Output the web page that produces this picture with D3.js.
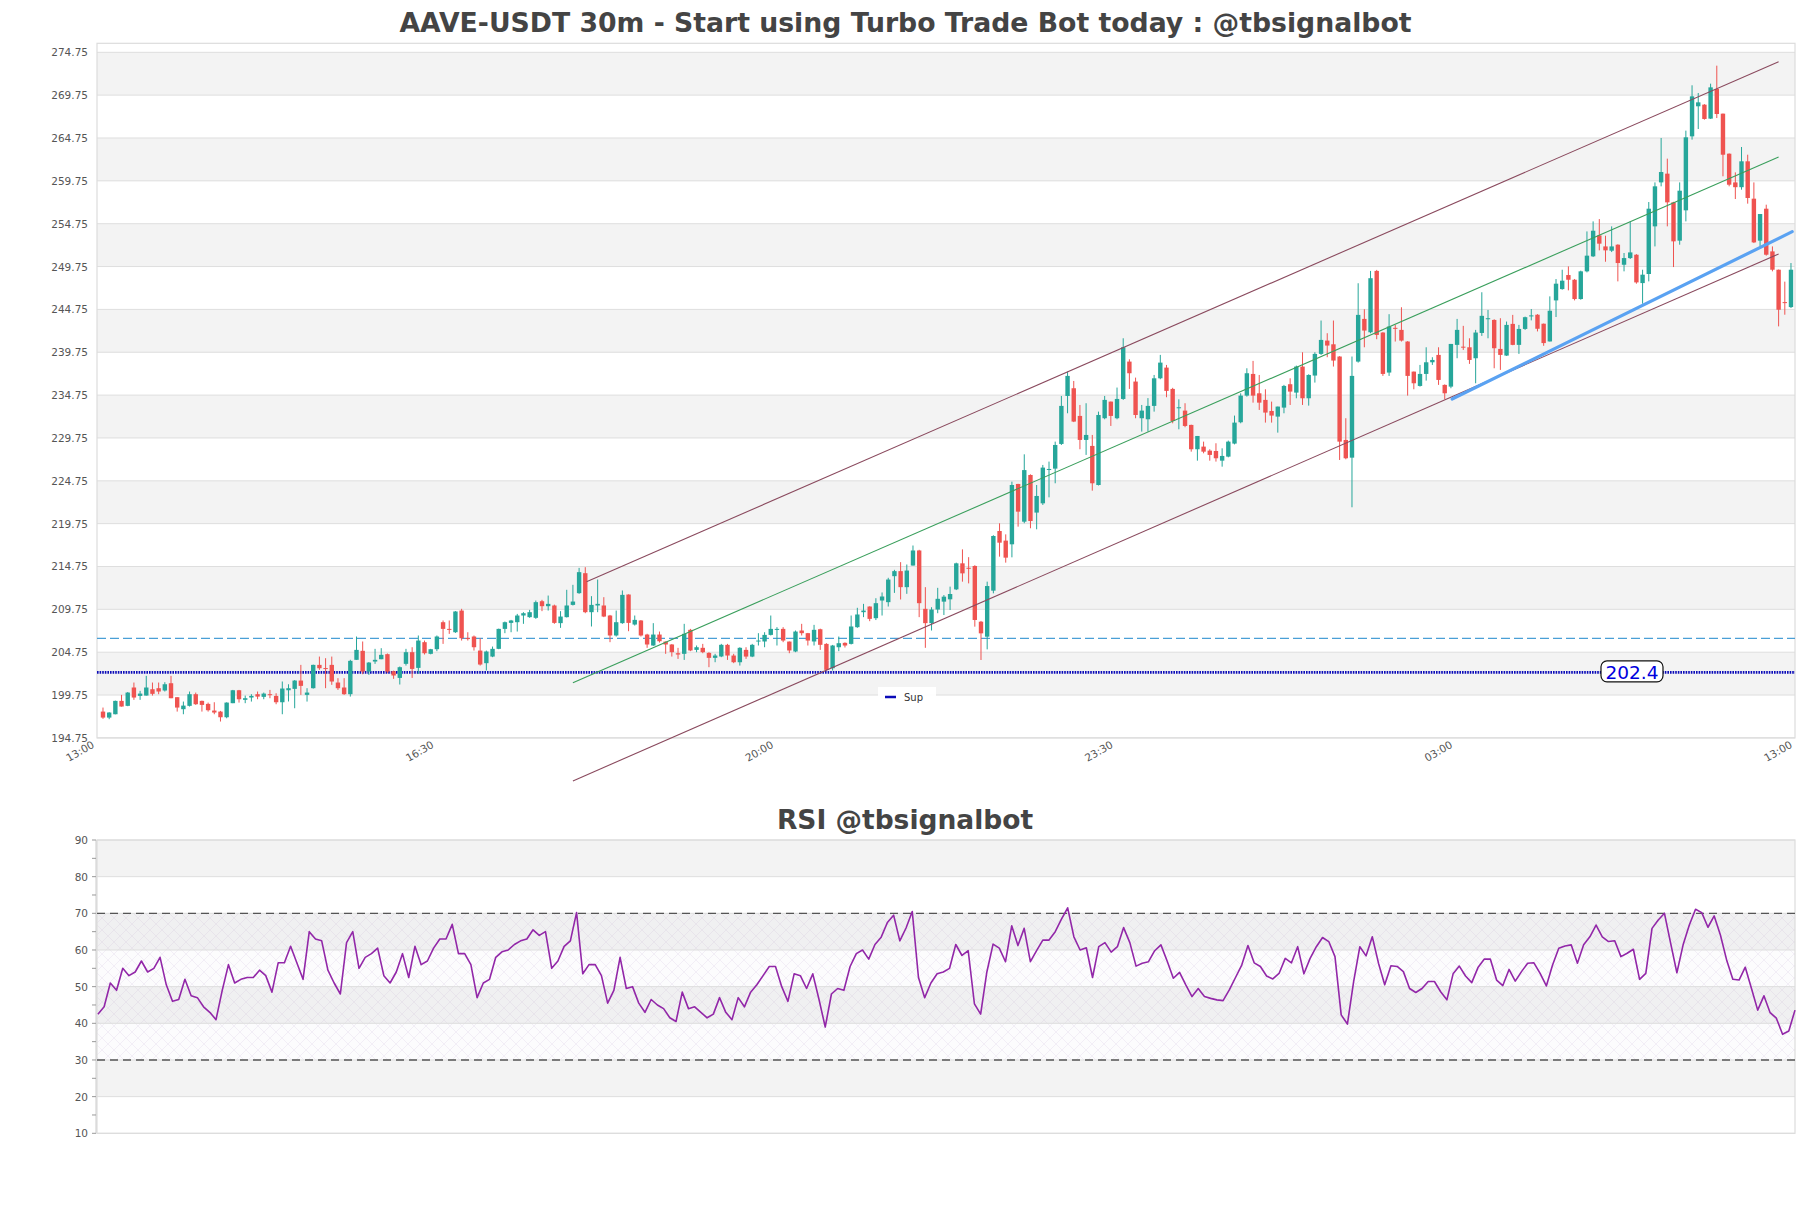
<!DOCTYPE html>
<html><head><meta charset="utf-8">
<script src="https://cdn.jsdelivr.net/npm/d3@7"></script>
<style>body{margin:0;background:#fff;} svg{display:block;font-family:"DejaVu Sans",sans-serif;}</style>
</head><body><svg id="c" width="1811" height="1208"></svg>
<script>
const opens = [197.82,197.12,197.51,199.07,198.49,200.63,199.65,199.69,200.43,200.55,200.28,201.13,199.50,198.10,198.49,199.85,199.07,198.72,197.94,197.82,
197.16,198.80,200.31,199.19,199.46,199.85,199.54,199.85,199.65,198.91,200.31,200.47,201.44,199.77,200.55,203.27,202.90,203.27,201.21,200.63,
199.85,203.86,204.91,202.49,203.66,203.93,204.52,202.53,201.75,203.39,204.75,202.92,205.92,204.56,205.10,208.25,207.47,207.08,209.61,206.40,
206.58,204.94,203.47,204.24,205.14,207.47,208.17,208.25,209.03,208.84,208.76,210.70,210.12,210.20,208.14,208.84,210.27,211.64,213.97,209.42,
210.20,210.20,209.03,206.70,208.14,211.48,207.98,208.45,206.81,205.53,206.81,205.99,205.65,204.63,204.56,207.36,205.02,205.26,204.67,204.09,
204.25,205.61,204.36,203.58,205.02,204.24,206.05,206.00,206.77,207.40,207.47,205.99,204.83,207.28,206.97,206.00,207.43,205.72,202.88,205.33,
205.84,205.72,207.67,209.42,210.08,208.72,210.78,210.59,213.62,214.21,212.34,214.86,216.62,209.81,208.14,209.73,210.65,210.92,212.08,215.12,
214.60,214.81,208.31,206.56,211.93,218.89,217.77,217.34,224.38,219.98,225.43,221.04,222.12,226.10,226.17,229.05,234.65,235.55,232.32,229.52,
228.82,224.26,232.05,233.99,232.05,234.30,238.66,236.33,232.05,231.93,233.49,236.71,237.96,235.47,233.30,232.94,231.27,228.43,228.74,228.27,
228.23,227.10,227.57,229.09,231.58,234.69,237.22,234.96,234.19,232.90,232.24,233.29,236.02,235.04,238.08,234.38,237.03,239.56,241.11,240.68,
239.25,229.52,227.45,238.66,243.64,242.08,249.24,242.05,237.38,242.60,242.36,241.00,237.49,235.82,237.22,238.58,239.44,235.94,235.74,240.61,
240.40,240.33,239.05,242.00,243.70,243.52,240.14,239.36,243.06,240.61,242.47,244.00,244.13,243.08,241.01,245.80,247.12,248.76,248.21,245.96,
249.19,250.94,253.39,252.10,251.60,252.30,249.96,250.74,251.13,247.82,248.88,254.44,259.57,260.59,257.24,252.77,256.31,264.94,268.45,268.64,
267.01,270.47,267.59,262.92,259.57,259.01,262.03,257.67,252.77,256.50,251.52,249.38,245.60,245.02];
const highs = [198.29,197.75,199.10,199.77,200.10,201.21,200.24,201.99,201.21,201.21,201.25,201.99,199.50,198.99,200.16,200.04,199.10,198.87,198.91,197.90,
198.90,200.35,200.35,199.69,199.85,200.16,200.04,200.35,199.96,201.33,201.01,201.50,203.27,200.55,203.30,204.24,204.05,204.24,201.72,201.72,
203.86,206.58,206.00,203.60,205.14,205.22,204.60,202.60,203.08,205.14,205.33,206.70,206.11,205.14,206.70,208.45,208.45,209.55,209.81,207.08,
206.70,206.38,204.94,205.41,207.50,208.33,208.52,209.22,209.42,209.69,210.78,210.86,211.36,210.30,209.54,212.03,212.61,214.59,214.67,211.29,
213.23,211.17,209.10,209.61,211.95,211.50,209.03,208.50,206.90,208.14,207.16,206.00,205.70,205.26,208.06,207.47,205.53,205.72,204.75,204.56,
205.72,205.72,204.56,205.33,205.33,205.72,206.97,207.08,209.03,207.67,207.67,206.00,207.28,208.06,207.00,207.94,207.50,205.80,205.60,206.58,
205.90,209.03,209.93,210.39,210.10,211.05,211.72,213.43,214.36,215.26,214.98,217.20,216.70,212.34,210.00,212.26,211.42,212.40,215.20,216.75,
215.84,214.90,208.40,212.98,218.40,219.79,218.50,224.65,224.40,227.84,225.50,224.26,226.60,226.99,229.32,234.65,237.49,236.40,233.60,233.80,
230.10,232.82,234.65,234.00,235.63,241.38,238.93,236.79,233.60,234.40,237.10,239.44,238.27,235.60,234.26,233.80,231.30,229.98,229.32,228.43,
229.13,228.54,229.44,232.36,234.96,237.88,238.74,237.10,235.43,233.99,233.41,235.94,236.71,238.19,239.75,237.18,239.75,243.45,241.97,243.45,
239.30,232.05,239.25,247.80,244.77,249.24,249.36,242.10,244.19,242.94,245.00,241.05,237.50,238.27,240.33,239.17,240.33,236.00,240.72,243.64,
242.83,241.38,242.36,246.75,244.69,243.60,243.72,243.33,244.11,242.94,243.91,244.79,244.20,243.10,246.27,248.29,249.38,249.77,248.30,249.27,
253.85,255.02,255.29,253.35,254.44,252.35,251.33,255.02,251.20,249.38,257.28,259.57,264.75,262.34,257.30,259.57,265.61,270.90,270.00,268.70,
271.09,273.19,267.60,262.95,260.74,263.70,262.80,259.57,255.88,256.97,252.10,249.40,247.99,250.16];
const lows = [196.97,196.93,197.50,198.40,198.45,199.19,199.19,199.69,199.69,199.85,200.16,199.38,197.82,197.51,198.41,198.60,197.82,197.82,197.51,196.66,
197.04,198.80,198.87,198.80,198.99,199.26,199.26,199.38,198.68,197.51,199.00,198.21,199.77,198.99,200.50,202.69,200.55,200.94,200.35,199.77,
199.57,203.86,202.18,202.10,203.39,203.93,202.30,201.64,200.98,203.19,201.75,202.22,204.48,204.50,204.87,205.72,206.89,207.00,206.11,206.11,
204.94,203.19,202.61,204.17,205.10,206.97,207.08,207.16,208.06,208.76,208.64,209.54,209.61,208.06,207.59,208.80,210.20,211.56,209.30,207.75,
209.42,208.84,205.92,206.58,208.06,207.20,207.86,206.58,205.26,205.49,205.88,204.56,204.24,203.97,203.85,204.87,204.75,204.63,203.00,203.58,
204.17,203.85,203.47,203.19,203.97,204.17,205.53,205.33,206.70,205.53,205.92,204.63,204.75,206.70,205.53,205.53,205.02,202.61,202.61,204.87,
205.30,205.65,207.59,208.84,208.37,208.50,209.03,210.08,211.67,210.90,211.56,214.86,208.84,205.26,207.28,209.30,209.09,209.67,212.00,212.98,
212.78,207.73,203.84,205.08,211.62,215.90,215.20,215.82,219.40,219.80,219.21,219.09,221.93,222.82,224.46,228.93,232.63,231.60,228.43,227.77,
223.60,224.20,231.93,231.15,231.93,234.19,235.47,232.05,230.49,230.49,232.82,236.60,234.50,231.46,230.76,231.00,228.15,227.10,227.96,227.10,
226.99,226.40,227.49,229.00,231.46,234.57,233.87,233.02,231.54,231.54,230.37,232.63,233.60,234.38,233.60,233.52,236.21,239.44,239.17,238.08,
227.18,227.26,221.66,238.54,240.33,241.97,241.27,236.99,236.99,241.00,241.00,234.69,235.43,235.74,236.44,238.27,235.94,234.26,235.55,239.05,
240.02,238.39,236.13,241.66,241.38,237.88,237.69,239.32,240.57,239.56,242.36,243.47,242.18,240.50,241.00,243.86,247.05,246.97,245.80,245.88,
249.07,250.86,251.64,250.31,251.44,248.02,249.19,250.63,247.75,245.41,248.02,252.10,259.11,254.44,249.69,252.30,255.02,264.56,265.80,266.89,
266.97,267.08,260.28,259.11,257.63,258.72,257.09,252.49,252.10,251.02,249.19,242.77,244.13,244.91];
const closes = [197.12,197.71,199.07,198.41,200.04,199.46,199.92,200.63,199.89,200.16,201.01,199.38,198.29,198.52,199.85,198.68,198.60,197.98,197.71,197.16,
198.87,200.31,199.26,199.38,199.65,199.57,199.92,199.77,198.91,200.51,200.55,201.44,200.82,200.04,203.27,202.88,202.85,201.33,200.55,199.85,
203.74,205.02,202.49,203.54,203.86,204.44,202.49,202.03,203.00,204.75,202.80,206.11,204.63,205.10,206.58,207.47,207.45,209.50,206.38,206.38,
205.33,203.31,204.83,205.14,207.47,208.25,208.45,209.03,209.30,209.42,210.59,210.12,210.39,208.17,208.91,210.20,210.66,214.09,209.42,210.27,
210.39,208.91,206.70,208.25,211.44,208.17,208.52,206.70,205.65,206.81,206.03,205.65,204.75,204.48,206.89,204.95,205.33,204.75,204.09,204.36,
205.61,204.36,203.58,205.26,204.24,205.61,206.11,206.77,207.47,207.47,206.11,204.95,207.16,206.97,206.11,207.36,205.61,202.69,205.53,205.80,
205.53,207.75,209.15,209.61,208.64,210.47,211.25,213.23,214.21,212.34,214.28,216.62,210.47,208.14,209.73,210.98,211.23,211.54,215.12,213.95,
214.54,208.51,206.95,212.47,218.31,217.53,215.78,224.26,221.15,226.00,220.06,222.98,226.29,226.13,228.93,233.49,236.99,231.66,229.52,230.10,
224.46,232.43,234.19,232.32,234.30,240.33,237.30,232.43,232.94,233.49,236.71,238.54,235.24,231.73,233.33,231.15,228.43,229.98,228.15,227.77,
227.38,227.65,229.32,231.54,234.69,237.30,234.69,233.87,232.71,232.36,233.41,235.82,235.16,238.08,234.38,237.10,239.56,241.19,240.53,238.78,
229.32,227.38,236.99,244.11,242.28,248.39,241.77,237.22,242.75,242.55,241.11,236.99,236.13,237.22,238.58,238.85,236.52,234.96,240.72,242.36,
240.33,238.85,242.05,244.00,243.72,240.22,239.44,242.94,240.61,242.47,243.84,244.05,242.49,240.82,244.59,247.75,248.10,248.21,245.96,249.19,
251.02,253.93,252.42,251.64,252.10,250.16,250.74,251.40,247.90,248.80,256.50,259.11,260.78,257.24,252.69,258.60,264.83,269.61,268.91,266.97,
270.66,267.55,262.80,259.30,259.01,262.03,257.75,252.57,255.88,251.13,249.38,244.71,245.57,249.38];
const rsiValues = [42.5,44.5,51,49,55,53,54,57,54,55,58,50.5,46,46.5,52,47.5,47,44.5,43,41,
49,56,51,52,52.5,52.5,54.5,53,48.5,56.5,56.5,61,56.5,52,65,63,62.5,54.5,51,48,
62,65,55,58,59,60.5,53,51,54,59,52.5,61,56,57,60.5,63,63,67,59,59,
56,47,51,52,58,59.5,60,61.5,62.5,63,65.5,64,65,55,57,61,62.5,70.2,53.5,56,
56,53,45.5,49,58,49.5,50,45.5,43,46.5,45,44,41.5,40.5,48.5,44,44.5,43,41.5,42.5,
47,43,41,47,44.5,48.5,50.5,53,55.5,55.5,50,46,53.5,53,49.5,53.5,46.5,39,48,49.5,
49,55.5,59,60,57.5,61.5,63.5,67.5,69.5,62.5,66,70.5,52.5,47,51,53.5,54,55,61.5,
58.5,59.8,45.3,42.5,54,61.6,60.5,56.8,66.6,61.2,65.9,56.8,59.8,62.7,62.7,65,68.4,71.5,63.6,60,
60.6,52.5,60.9,62,59.4,60.9,66.1,62,55.6,56.4,56.8,59.8,61.4,57,52.3,53.9,50.5,47.3,49.5,47.3,
46.8,46.4,46.2,49.1,52.5,55.9,61.2,56.5,55.5,52.9,52.1,53.6,57.7,56.5,60.9,53.5,57.7,60.9,63.4,62.3,
58.2,42.3,39.8,51.4,60.9,58.4,63.6,56.4,50.5,55.7,55.5,54.1,49.5,48.4,49.5,51.4,51.4,48.6,46.4,53.5,
55.6,52.9,51.1,55.2,57.5,57.5,51.8,50.3,54.7,51.5,54.1,56.4,56.5,53.6,50.2,55.9,60.5,61.1,61.4,56.4,
61.4,63.6,66.8,63.6,62.3,62.5,58.2,59.1,60.2,52,53.6,65.9,68.2,70,61.8,53.8,61.4,66.8,71.1,70.2,
66.2,69.3,64.1,57.3,52,51.8,55.3,49.5,43.6,47.5,42.9,41.4,37,37.9,43.6];

const priceTicks = [274.75,269.75,264.75,259.75,254.75,249.75,244.75,239.75,234.75,229.75,224.75,219.75,214.75,209.75,204.75,199.75,194.75];
const timeLabels = ["13:00","16:30","20:00","23:30","03:00","13:00"];
const rsiTicks = [90,80,70,60,50,40,30,20,10];
const rsiMinorTicks = [85,75,65,55,45,35,25,15];

// channel / trend lines: [candle index, price]
const upperChannel = [[78.2,212.97],[271.0,273.66]];
const lowerChannel = [[76.0,189.73],[271.0,251.22]];
const midChannel = [[76.0,201.19],[271.0,262.53]];
const supportTrend = [[218.2,234.29],[273.2,253.82]];
const resistanceLevel = 206.36;
const supportLevel = 202.4;
const supportLabel = "202.4";
const legendName = "Sup";
const mainTitle = "AAVE-USDT 30m - Start using Turbo Trade Bot today : @tbsignalbot";
const rsiTitle = "RSI @tbsignalbot";
const rsiLevels = [70,30];

const svg = d3.select("#c");
const L = 97, R = 1795, T = 43.3, B = 737.9;
const N = opens.length;
const x = d3.scaleLinear().domain([-0.97, N - 1 + 0.65]).range([L, R]);
const y = d3.scaleLinear().domain([194.75, 275.8]).range([B, T]);
const GREEN = "#26a69a", RED = "#ef5350";

// title
svg.append("text").attr("x", 905.5).attr("y", 32).attr("text-anchor", "middle")
  .attr("font-size", 26.7).attr("font-weight", "bold").attr("fill", "#444").text(mainTitle);

// main plot background bands
const gMain = svg.append("g");
gMain.append("rect").attr("x", L).attr("y", T).attr("width", R - L).attr("height", B - T).attr("fill", "#fff");
for (let k = 0; k < priceTicks.length - 1; k++) {
  if (k % 2 === 0) {
    gMain.append("rect").attr("x", L).attr("width", R - L)
      .attr("y", y(priceTicks[k])).attr("height", y(priceTicks[k + 1]) - y(priceTicks[k]))
      .attr("fill", "#f3f3f3");
  }
}
gMain.selectAll("line.grid").data(priceTicks).join("line").attr("class", "grid")
  .attr("x1", L).attr("x2", R).attr("y1", d => y(d)).attr("y2", d => y(d))
  .attr("stroke", "#dedede").attr("stroke-width", 1);
gMain.append("rect").attr("x", L).attr("y", T).attr("width", R - L).attr("height", B - T)
  .attr("fill", "none").attr("stroke", "#dcdcdc").attr("stroke-width", 1.2);

// y labels
gMain.selectAll("text.yl").data(priceTicks).join("text").attr("class", "yl")
  .attr("x", 88).attr("y", d => y(d) + 4).attr("text-anchor", "end")
  .attr("font-size", 10.5).attr("fill", "#555").text(d => d.toFixed(2));

// x labels
const xt = d3.scalePoint().domain(d3.range(timeLabels.length)).range([L, R]);
gMain.selectAll("text.xl").data(timeLabels).join("text").attr("class", "xl")
  .attr("transform", (d, i) => `translate(${xt(i) - 2},${B + 9}) rotate(-30)`)
  .attr("text-anchor", "end").attr("font-size", 10.5).attr("fill", "#555").text(d => d);

// horizontal levels
gMain.append("line").attr("x1", L).attr("x2", R).attr("y1", y(resistanceLevel)).attr("y2", y(resistanceLevel))
  .attr("stroke", "#4a9fd6").attr("stroke-width", 1.4).attr("stroke-dasharray", "9,4");
gMain.append("line").attr("x1", L).attr("x2", R).attr("y1", y(supportLevel)).attr("y2", y(supportLevel))
  .attr("stroke", "#0b0bb8").attr("stroke-width", 2.6).attr("stroke-dasharray", "1.6,1");

// candles
const cg = gMain.append("g");
const idx = d3.range(N);
cg.selectAll("line.w").data(idx).join("line").attr("class", "w")
  .attr("x1", i => x(i)).attr("x2", i => x(i))
  .attr("y1", i => y(highs[i])).attr("y2", i => y(lows[i]))
  .attr("stroke", i => closes[i] >= opens[i] ? GREEN : RED).attr("stroke-width", 1);
const bw = 4.4;
cg.selectAll("rect.b").data(idx).join("rect").attr("class", "b")
  .attr("x", i => x(i) - bw / 2).attr("width", bw)
  .attr("y", i => y(Math.max(opens[i], closes[i])))
  .attr("height", i => Math.max(1, Math.abs(y(opens[i]) - y(closes[i]))))
  .attr("fill", i => closes[i] >= opens[i] ? GREEN : RED);

// channel lines
const ln = d3.line().x(d => x(d[0])).y(d => y(d[1]));
gMain.append("path").attr("d", ln(upperChannel)).attr("fill", "none").attr("stroke", "#8a4a5e").attr("stroke-width", 1.1);
gMain.append("path").attr("d", ln(lowerChannel)).attr("fill", "none").attr("stroke", "#8a4a5e").attr("stroke-width", 1.1);
gMain.append("path").attr("d", ln(midChannel)).attr("fill", "none").attr("stroke", "#3a9f5c").attr("stroke-width", 1.1);
gMain.append("path").attr("d", ln(supportTrend)).attr("fill", "none").attr("stroke", "#5aa2f2").attr("stroke-width", 3.2).attr("stroke-linecap", "round");

// support label box
const lbx = L + 0.904 * (R - L);
const lb = gMain.append("g").attr("transform", `translate(${lbx},${y(supportLevel)})`);
lb.append("rect").attr("x", -31).attr("y", -11.5).attr("width", 62).attr("height", 21).attr("rx", 6)
  .attr("fill", "#fff").attr("stroke", "#111").attr("stroke-width", 1.2);
lb.append("text").attr("x", 0).attr("y", 6.5).attr("text-anchor", "middle").attr("font-size", 18.5)
  .attr("fill", "#0000dd").text(supportLabel);

// legend
const lg = gMain.append("g").attr("transform", `translate(878,687)`);
lg.append("rect").attr("width", 58).attr("height", 19).attr("fill", "#fff").attr("opacity", 0.95);
lg.append("line").attr("x1", 7).attr("x2", 18).attr("y1", 10).attr("y2", 10).attr("stroke", "#0b0bb8").attr("stroke-width", 2.5);
lg.append("text").attr("x", 26).attr("y", 13.5).attr("font-size", 10).attr("fill", "#333").text(legendName);

// ---------- RSI panel ----------
const RT = 840, RB = 1133.3;
const ry = d3.scaleLinear().domain([10, 90]).range([RB, RT]);
const rx = d3.scaleLinear().domain([0, N - 1]).range([97.9, R]);

svg.append("text").attr("x", 905).attr("y", 829).attr("text-anchor", "middle")
  .attr("font-size", 26.5).attr("font-weight", "bold").attr("fill", "#444").text(rsiTitle);

const defs = svg.append("defs");
const pat = defs.append("pattern").attr("id", "hatch").attr("patternUnits", "userSpaceOnUse")
  .attr("width", 12).attr("height", 12);
pat.append("path").attr("d", "M0,0 L12,12 M12,0 L0,12").attr("stroke", "rgba(160,120,190,0.18)").attr("stroke-width", 0.6);

const gR = svg.append("g");
gR.append("rect").attr("x", L).attr("y", RT).attr("width", R - L).attr("height", RB - RT).attr("fill", "#fff");
for (let k = 0; k < rsiTicks.length - 1; k++) {
  if (k % 2 === 0) {
    gR.append("rect").attr("x", L).attr("width", R - L)
      .attr("y", ry(rsiTicks[k])).attr("height", ry(rsiTicks[k + 1]) - ry(rsiTicks[k]))
      .attr("fill", "#f3f3f3");
  }
}
gR.append("rect").attr("x", L).attr("width", R - L).attr("y", ry(rsiLevels[0]))
  .attr("height", ry(rsiLevels[1]) - ry(rsiLevels[0])).attr("fill", "rgba(180,160,210,0.035)");
gR.append("rect").attr("x", L).attr("width", R - L).attr("y", ry(rsiLevels[0]))
  .attr("height", ry(rsiLevels[1]) - ry(rsiLevels[0])).attr("fill", "url(#hatch)");
gR.selectAll("line.grid").data(rsiTicks).join("line").attr("class", "grid")
  .attr("x1", L).attr("x2", R).attr("y1", d => ry(d)).attr("y2", d => ry(d))
  .attr("stroke", "#dedede").attr("stroke-width", 1);
gR.append("rect").attr("x", L).attr("y", RT).attr("width", R - L).attr("height", RB - RT)
  .attr("fill", "none").attr("stroke", "#dcdcdc").attr("stroke-width", 1.2);
gR.selectAll("line.lvl").data(rsiLevels).join("line").attr("class", "lvl")
  .attr("x1", L).attr("x2", R).attr("y1", d => ry(d)).attr("y2", d => ry(d))
  .attr("stroke", "#555").attr("stroke-width", 1.3).attr("stroke-dasharray", "8,5");

// RSI axis
gR.append("line").attr("x1", L - 1).attr("x2", L - 1).attr("y1", RT).attr("y2", RB).attr("stroke", "#ccc");
gR.selectAll("line.tk").data(rsiTicks.concat(rsiMinorTicks)).join("line").attr("class", "tk")
  .attr("x1", L - 5).attr("x2", L - 1).attr("y1", d => ry(d)).attr("y2", d => ry(d)).attr("stroke", "#999");
gR.selectAll("text.rl").data(rsiTicks).join("text").attr("class", "rl")
  .attr("x", 88).attr("y", d => ry(d) + 4).attr("text-anchor", "end")
  .attr("font-size", 10.5).attr("fill", "#555").text(d => d);

gR.append("path").datum(rsiValues)
  .attr("d", d3.line().x((d, i) => rx(i)).y(d => ry(d)))
  .attr("fill", "none").attr("stroke", "#9227a8").attr("stroke-width", 1.6).attr("stroke-linejoin", "round");
</script>
</body></html>
